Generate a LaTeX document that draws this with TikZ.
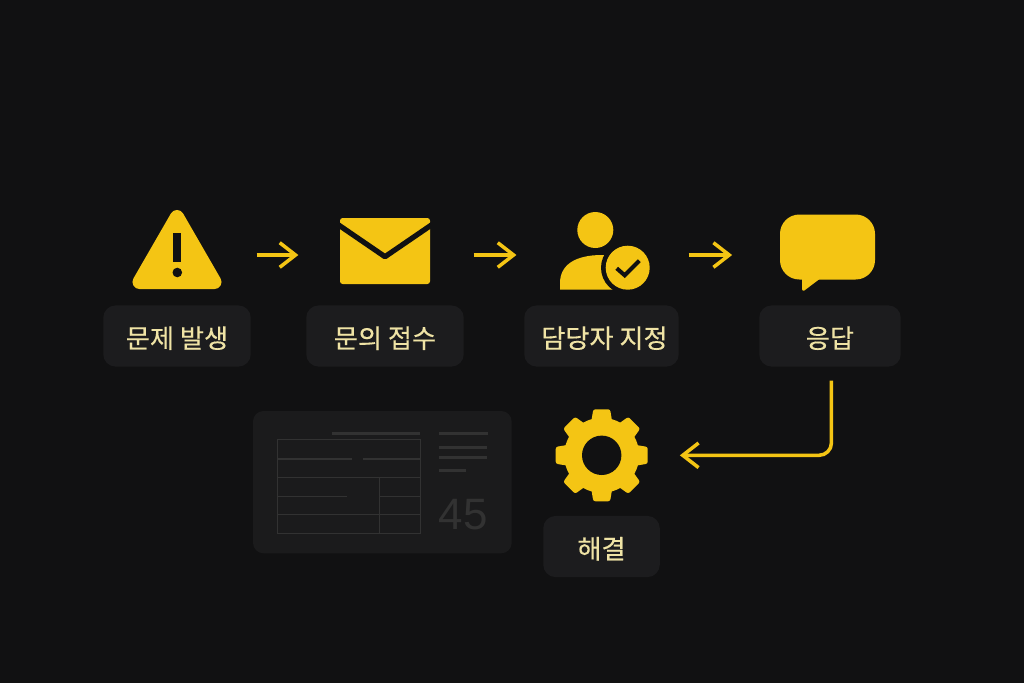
\documentclass[tikz,border=0pt]{standalone}
\usepackage{fontspec}
\newfontfamily\korean[FakeBold=0.35]{Noto Sans CJK KR}
\setsansfont{Liberation Sans}
\usetikzlibrary{arrows.meta}
\definecolor{pagebg}{HTML}{111112}
\definecolor{boxbg}{HTML}{1C1C1E}
\definecolor{cardbg}{HTML}{1B1B1C}
\definecolor{cardline}{HTML}{323232}
\definecolor{signal}{HTML}{F4C514}
\definecolor{labeltext}{HTML}{EFE3A5}
\tikzset{
  iconbox/.style={inner sep=0pt,outer sep=0pt,minimum width=51pt,minimum height=40pt},
  steplabel/.style={fill=boxbg,rounded corners=7pt,inner sep=0pt,outer sep=0pt,minimum height=34.8pt,
    text height=14pt,text depth=0.4pt,text=labeltext,font=\korean\fontsize{14.9}{16}\selectfont},
  flow/.style={signal,line width=2pt,-{Straight Barb[length=9pt,width=14pt]}},
  cardrule/.style={cardline,line width=0.6pt},
  cardbar/.style={cardline,line width=1.7pt}
}
\begin{document}
\begin{tikzpicture}[x=0.02cm,y=-0.02cm]
  \useasboundingbox (0,0) rectangle (1024,683);
  \fill[pagebg] (0,0) rectangle (1024,683);

  \node[iconbox] (warn) at (177,255) {};
  \node[iconbox] (mail) at (385,255) {};
  \node[iconbox] (assign) at (605,255) {};
  \node[iconbox] (reply) at (827.5,255) {};
  \node[iconbox] (gear) at (601.7,455.3) {};

  \node[steplabel,minimum width=83.9pt] (warnlabel) at (177,336) {문제 발생};
  \node[steplabel,minimum width=89.6pt] (maillabel) at (385,336) {문의 접수};
  \node[steplabel,minimum width=87.9pt] (assignlabel) at (601.5,336) {\hspace*{3.4pt}담당자 지정};
  \node[steplabel,minimum width=80.5pt] (replylabel) at (830,336) {응답};
  \node[steplabel,minimum width=66.3pt] (gearlabel) at (601.5,546.5) {해결};

  % warning sign
  \filldraw[signal,line width=8pt,line join=round] (177,217) -- (139.5,282) -- (214.5,282) -- cycle;
  \fill[pagebg] (173.3,232.7) rectangle (181,262.3);
  \fill[pagebg] (177.3,272.5) circle (4.8);

  % envelope
  \fill[signal,rounded corners=1.5pt] (340,218) rectangle (430,284);
  \draw[pagebg,line width=3pt,line join=round] (335,222.5) -- (385,256.7) -- (435,222.5);

  % person with badge
  \fill[signal] (595.3,230) circle (18);
  \fill[signal] (560,289.5) -- (560,283) .. controls (560,265) and (575,255) .. (602,255) -- (622,255) -- (622,289.5) -- cycle;
  \fill[pagebg] (627.7,267.7) circle (26.7);
  \fill[signal] (627.7,267.7) circle (22);
  \draw[pagebg,line width=2.3pt] (616.7,268.3) -- (624.7,275.3) -- (639.3,260.7);

  % speech bubble
  \fill[signal,rounded corners=11pt] (780,214.5) rectangle (875,279.5);
  \filldraw[signal,line width=1.5pt,line join=round] (803.5,275) -- (803.5,289.5) -- (820,277) -- cycle;

  % gear
  \foreach \a in {0,45,...,315} {
    \fill[signal,rounded corners=1.2pt,rotate around={\a:(601.7,455.3)}]
      (590.7,425) -- (593.3,409.3) -- (610.1,409.3) -- (612.7,425) -- cycle;
  }
  \fill[signal] (601.7,455.3) circle (37.5);
  \fill[pagebg] (601.7,455.3) circle (19.7);

  % faded card
  \fill[cardbg,rounded corners=6pt] (253,411) rectangle (511.7,553.3);
  \draw[cardrule] (277.3,439.3) rectangle (420.7,533.3);
  \draw[cardrule] (277.3,459) -- (352,459);
  \draw[cardrule] (363,459) -- (420.7,459);
  \draw[cardrule] (277.3,477.3) -- (420.7,477.3);
  \draw[cardrule] (277.3,496.3) -- (347,496.3);
  \draw[cardrule] (379.7,496.3) -- (420.7,496.3);
  \draw[cardrule] (277.3,514.3) -- (420.7,514.3);
  \draw[cardrule] (379.7,477.3) -- (379.7,533.3);
  \draw[cardbar] (332,433.3) -- (419.5,433.3);
  \draw[cardbar] (439.3,433.3) -- (488,433.3);
  \draw[cardbar] (439.3,447.3) -- (487.3,447.3);
  \draw[cardbar] (439.3,457.7) -- (487.3,457.7);
  \draw[cardbar] (439.3,470.3) -- (466.3,470.3);
  \node[text=cardline,font=\sffamily\fontsize{25}{25}\selectfont,inner sep=0pt] (cardnum) at (463,514.5) {45};

  \draw[flow,shorten <=19.8pt,shorten >=23.8pt] (warn.east) -- (mail.west);
  \draw[flow,shorten <=25pt,shorten >=24.9pt] (mail.east) -- (assign.west);
  \draw[flow,shorten <=22.1pt,shorten >=28.8pt] (assign.east) -- (reply.west);
  \draw[flow,rounded corners=7pt,shorten <=8pt,shorten >=19pt] ([xshift=0.8pt]replylabel.south) |- (gear.east);
\end{tikzpicture}
\end{document}
